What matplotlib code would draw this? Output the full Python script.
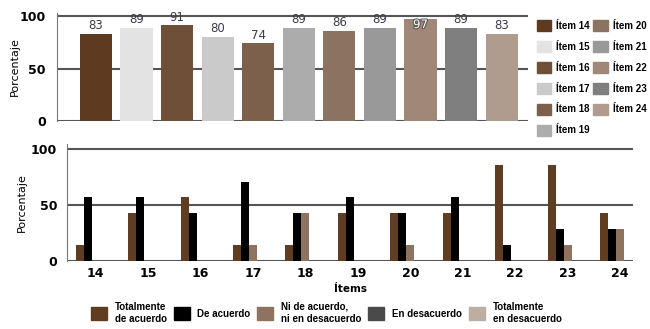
import numpy as np
import matplotlib
matplotlib.use("Agg")
import matplotlib.pyplot as plt
from matplotlib.patches import Patch
import matplotlib.patheffects as pe

# top chart: overall percentage per item
items = ["14", "15", "16", "17", "18", "19", "20", "21", "22", "23", "24"]
totals = [83, 89, 91, 80, 74, 89, 86, 89, 97, 89, 83]
item_colors = ["#5e3b20", "#e3e3e3", "#6f4f37", "#cacaca", "#7d604b", "#acacac",
               "#8c7260", "#999999", "#a08777", "#7f7f7f", "#b09c8e"]

# bottom chart: answer distribution per item
answers = ["Totalmente\nde acuerdo", "De acuerdo", "Ni de acuerdo,\nni en desacuerdo",
           "En desacuerdo", "Totalmente\nen desacuerdo"]
tot_acuerdo = [14, 43, 57, 14, 14, 43, 43, 43, 86, 86, 43]
de_acuerdo = [57, 57, 43, 71, 43, 57, 43, 57, 14, 29, 29]
ni_ni = [0, 0, 0, 14, 43, 0, 14, 0, 0, 14, 29]
en_desacuerdo = [0, 0, 0, 0, 0, 0, 0, 0, 0, 0, 0]
tot_desacuerdo = [0, 0, 0, 0, 0, 0, 0, 0, 0, 0, 0]
answer_colors = ["#603c20", "#000000", "#8f7361", "#4a4a4a", "#bcaea3"]

plt.rcParams['font.family'] = ['DejaVu Sans']
fig = plt.figure(figsize=(6.5, 3.29), dpi=100)

grid_c = "#555555"
leg_font = {"family": "Liberation Sans", "size": 7, "weight": "bold"}

# ---- top ----
ax1 = fig.add_axes([0.0877, 0.632, 0.724, 0.3285])
x = np.arange(len(items))
bars = ax1.bar(x, totals, width=0.79, color=item_colors, zorder=3)
for b, v in zip(bars, totals):
    t = ax1.text(b.get_x() + b.get_width() / 2, v + 1.5, str(v), ha="center", va="bottom",
                 fontsize=8.5, color="#3c3c4c", zorder=4)
    if v == 97:
        t.set_color("white")
        t.set_va("top")
        t.set_y(v + 1)
        t.set_path_effects([pe.withStroke(linewidth=1.5, foreground="#555555")])
ax1.set_xlim(-0.96, 10.64)
ax1.set_ylim(0, 102.9)
ax1.set_yticks([0, 50, 100])
ax1.set_xticks([])
for yv in [0, 50, 100]:
    ax1.axhline(yv, color=grid_c, lw=1.5, zorder=1)
for s in ["top", "right", "bottom"]:
    ax1.spines[s].set_visible(False)
ax1.spines["left"].set_color("#777777")
ax1.tick_params(axis="y", length=0, pad=8, labelsize=9)
for lab in ax1.get_yticklabels():
    lab.set_fontweight("bold")
ax1.set_ylabel("Porcentaje", fontsize=8, labelpad=0)
handles = [Patch(color=c, label="Ítem " + i) for c, i in zip(item_colors, items)]
ax1.legend(handles=handles, ncol=2, loc="upper left", bbox_to_anchor=(1.015, 0.955),
           frameon=False, prop=leg_font, handlelength=1.5, borderpad=0.2,
           handleheight=1.4, labelspacing=1.0, columnspacing=0.35, handletextpad=0.5,
           borderaxespad=0.0)

# ---- bottom ----
ax2 = fig.add_axes([0.103, 0.2067, 0.871, 0.3556])
series = [tot_acuerdo, de_acuerdo, ni_ni, en_desacuerdo, tot_desacuerdo]
w = 0.153
for k, (vals, c) in enumerate(zip(series, answer_colors)):
    ax2.bar(x + (k - 2) * w, vals, width=w, color=c, zorder=3, label=answers[k])
ax2.set_xlim(-0.55, 10.25)
ax2.set_ylim(0, 104.5)
ax2.set_yticks([0, 50, 100])
ax2.set_xticks(x)
ax2.set_xticklabels(items)
for yv in [0, 50, 100]:
    ax2.axhline(yv, color=grid_c, lw=1.5, zorder=1)
for s in ["top", "right", "bottom"]:
    ax2.spines[s].set_visible(False)
ax2.spines["left"].set_color("#777777")
ax2.tick_params(axis="y", length=0, pad=7, labelsize=9)
ax2.tick_params(axis="x", length=0, pad=4, labelsize=9)
for lab in ax2.get_yticklabels() + ax2.get_xticklabels():
    lab.set_fontweight("bold")
ax2.set_ylabel("Porcentaje", fontsize=8, labelpad=3)
ax2.set_xlabel("Ítems", fontsize=7.5, fontweight="bold", labelpad=3)

h2 = [Patch(color=c, label=a) for c, a in zip(answer_colors, answers)]
fig.legend(handles=h2, ncol=5, loc="lower center", bbox_to_anchor=(0.502, -0.01),
           frameon=False, prop=leg_font, handlelength=1.65,
           handleheight=1.65, columnspacing=0.7, handletextpad=0.8, labelspacing=0.2)

fig.savefig("out.png", dpi=100)
